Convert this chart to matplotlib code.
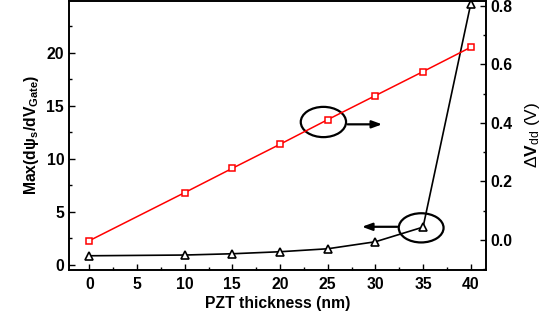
import matplotlib
matplotlib.use("Agg")
import matplotlib.pyplot as plt
from matplotlib.patches import Ellipse
from matplotlib.ticker import MultipleLocator

plt.rcParams["font.family"] = ["Liberation Sans", "DejaVu Sans"]
plt.rcParams["mathtext.fontset"] = "custom"
plt.rcParams["mathtext.rm"] = "Liberation Sans"
plt.rcParams["mathtext.bf"] = "Liberation Sans:bold"
plt.rcParams["mathtext.it"] = "Liberation Sans:italic"

# data
thickness = [0, 10, 15, 20, 25, 30, 35, 40]
max_dpsi = [0.87, 0.94, 1.06, 1.25, 1.53, 2.19, 3.57, 24.6]      # left axis, black
delta_vdd = [-0.002, 0.162, 0.245, 0.327, 0.411, 0.493, 0.575, 0.658]  # right axis, red

fig = plt.figure(figsize=(5.49, 3.24), dpi=100)
ax = fig.add_axes([69 / 549, 1 - 270 / 324, (486 - 69) / 549, 270 / 324 - 0.002])
ax2 = ax.twinx()

ax.plot(thickness, max_dpsi, color="black", lw=1.2, marker="^", ms=5.5,
        mfc="white", mec="black", mew=1.2, zorder=3)
ax2.plot(thickness, delta_vdd, color="red", lw=1.1, marker="s", ms=4.2,
         mfc="white", mec="red", mew=1.1, zorder=3)

ax.set_xlim(-2.13, 41.6)
ax.set_ylim(-0.47, 24.9)
ax2.set_ylim(-0.102, 0.817)

ax.xaxis.set_major_locator(MultipleLocator(5))
ax.xaxis.set_minor_locator(MultipleLocator(2.5))
ax.yaxis.set_major_locator(MultipleLocator(5))
ax.yaxis.set_minor_locator(MultipleLocator(2.5))
ax2.yaxis.set_major_locator(MultipleLocator(0.2))
ax2.yaxis.set_minor_locator(MultipleLocator(0.1))
ax2.yaxis.set_major_formatter(matplotlib.ticker.FormatStrFormatter("%.1f"))

for a in (ax, ax2):
    a.tick_params(which="major", direction="in", length=4.5, width=1.0,
                  labelsize=11.3)
    a.tick_params(which="minor", direction="in", length=2.5, width=1.0)
    for s in a.spines.values():
        s.set_linewidth(1.2)
    for lab in a.get_xticklabels() + a.get_yticklabels():
        lab.set_fontweight("bold")
ax.tick_params(axis="y", which="both", right=False)
ax.tick_params(axis="x", which="both", top=False, pad=5)
ax2.tick_params(axis="y", which="both", left=False, pad=3)

ax.set_xlabel("PZT thickness (nm)", fontsize=11.3, fontweight="bold", labelpad=3)
ax.set_ylabel("Max(dψ$_{\\mathbf{s}}$/dV$_{\\mathbf{Gate}}$)", fontsize=11.3,
              fontweight="bold", labelpad=4)
ax2.set_ylabel(r"$\Delta\mathbf{V}_{\rm dd}$ (V)", fontsize=12.5, labelpad=8)

# annotations: ellipses with arrows pointing to the matching axis
e1 = Ellipse((24.55, 13.47), 4.75, 2.85, fill=False, lw=1.6, color="black", zorder=4)
e2 = Ellipse((34.8, 3.5), 4.7, 2.75, fill=False, lw=1.6, color="black", zorder=4)
ax.add_patch(e1)
ax.add_patch(e2)
ax.annotate("", xy=(31.0, 13.25), xytext=(26.8, 13.25),
            arrowprops=dict(arrowstyle="-|>,head_length=0.6,head_width=0.22",
                            lw=1.6, color="black"))
ax.annotate("", xy=(28.3, 3.6), xytext=(32.6, 3.6),
            arrowprops=dict(arrowstyle="-|>,head_length=0.6,head_width=0.22",
                            lw=1.6, color="black"))

fig.savefig("out.png", dpi=100)
